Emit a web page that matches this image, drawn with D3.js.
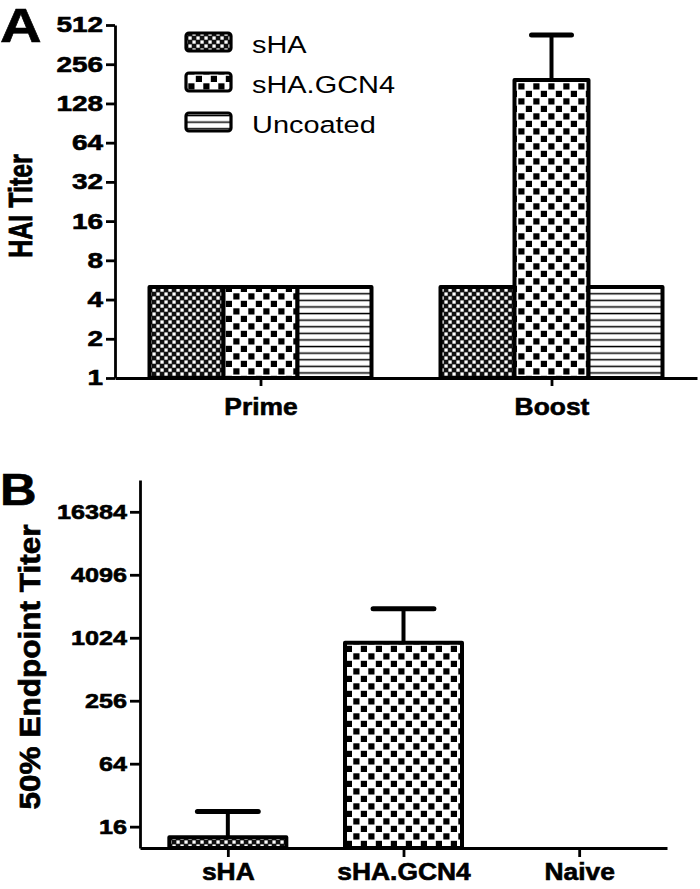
<!DOCTYPE html>
<html><head><meta charset="utf-8">
<script src="https://cdn.jsdelivr.net/npm/d3@7"></script>
<style>
html,body{margin:0;padding:0;background:#fff;}
text{font-family:Arial,"Liberation Sans",sans-serif;fill:#000;}
</style></head>
<body>
<svg id="c" width="700" height="889"></svg>
<script>
// ---- Data ----
const groupsA = ["Prime", "Boost"];
const seriesA = ["sHA", "sHA.GCN4", "Uncoated"];
const sHA_A = [5, 5];
const gcn4_A = [5, 194];
const uncoated_A = [5, 5];
const sHA_errA = [null, null];
const gcn4_errA = [null, 429];
const uncoated_errA = [null, null];
const ticksA = [1, 2, 4, 8, 16, 32, 64, 128, 256, 512];

const groupsB = ["sHA", "sHA.GCN4", "Naive"];
const valuesB = [12.7, 917, 10];
const errB = [22.3, 1940, null];
const patternsB = ["pSHA", "pGCN", "pSHA"];
const ticksB = [16, 64, 256, 1024, 4096, 16384];

const svg = d3.select("#c");
const defs = svg.append("defs");
// fine checker: dark with white squares
const p1 = defs.append("pattern").attr("id","pSHA").attr("patternUnits","userSpaceOnUse").attr("width",8).attr("height",8);
p1.append("rect").attr("width",8).attr("height",8).attr("fill","#111");
p1.append("rect").attr("x",0.4).attr("y",0.4).attr("width",3.3).attr("height",3.3).attr("fill","#fff");
p1.append("rect").attr("x",4.4).attr("y",4.4).attr("width",3.3).attr("height",3.3).attr("fill","#fff");
// coarse checker
const p2 = defs.append("pattern").attr("id","pGCN").attr("patternUnits","userSpaceOnUse").attr("width",15).attr("height",15);
p2.append("rect").attr("width",15).attr("height",15).attr("fill","#fff");
p2.append("rect").attr("x",0.8).attr("y",0.8).attr("width",6.2).attr("height",6.2).attr("fill","#000");
p2.append("rect").attr("x",8.3).attr("y",8.3).attr("width",6.2).attr("height",6.2).attr("fill","#000");
// horizontal lines
const p3 = defs.append("pattern").attr("id","pUNC").attr("patternUnits","userSpaceOnUse").attr("width",8).attr("height",6.6);
p3.append("rect").attr("width",8).attr("height",6.6).attr("fill","#fff");
p3.append("rect").attr("x",0).attr("y",2.6).attr("width",8).attr("height",1.5).attr("fill","#000");
const patA = ["pSHA","pGCN","pUNC"];

function stretchText(sel, s){
  sel.each(function(){
    const L = this.getComputedTextLength();
    d3.select(this).attr("textLength", L*s).attr("lengthAdjust","spacingAndGlyphs");
  });
}
function boldify(sel){ sel.attr("font-weight","bold").attr("stroke","#000").attr("stroke-width",0.6).attr("font-family","Arial, Liberation Sans, sans-serif"); }

// ================= Panel A =================
const xA = d3.scalePoint().domain(groupsA).range([115, 697]).padding(0.5);
const yA = d3.scaleLog().base(2).domain([1, 512]).range([378, 25]);
const sub = d3.scaleBand().domain(seriesA).range([-111, 111]).padding(0);
const seriesValsA = [sHA_A, gcn4_A, uncoated_A];
const seriesErrA = [sHA_errA, gcn4_errA, uncoated_errA];

const gA = svg.append("g");
seriesA.forEach((s, si) => {
  groupsA.forEach((g, gi) => {
    const v = seriesValsA[si][gi];
    const x0 = xA(g) + sub(s);
    const e = seriesErrA[si][gi];
    if (e != null) {
      const cx = x0 + sub.bandwidth()/2;
      gA.append("line").attr("x1",cx).attr("x2",cx).attr("y1",yA(v)).attr("y2",yA(e))
        .attr("stroke","#000").attr("stroke-width",4);
      gA.append("line").attr("x1",cx - sub.bandwidth()*0.27).attr("x2",cx + sub.bandwidth()*0.27)
        .attr("y1",yA(e)).attr("y2",yA(e)).attr("stroke","#000").attr("stroke-width",5).attr("stroke-linecap","round");
    }
    gA.append("rect").attr("x", x0).attr("y", yA(v)).attr("width", sub.bandwidth())
      .attr("height", yA(1) - yA(v)).attr("fill", `url(#${patA[si]})`)
      .attr("stroke","#000").attr("stroke-width",4).attr("stroke-linejoin","round");
  });
});

const axYA = svg.append("g").attr("transform","translate(115,0)")
  .call(d3.axisLeft(yA).tickValues(ticksA).tickFormat(d3.format("d")).tickSize(9).tickSizeOuter(0).tickPadding(3));
const axXA = svg.append("g").attr("transform","translate(0,378)")
  .call(d3.axisBottom(xA).tickSize(8).tickSizeOuter(0).tickPadding(12));
[axYA, axXA].forEach(a => {
  a.select(".domain").attr("stroke","#000").attr("stroke-width",2.8);
  a.selectAll(".tick line").attr("stroke","#000").attr("stroke-width",2.8);
});
axYA.selectAll("text").attr("font-size",21.5).call(boldify).call(stretchText, 1.3);
axXA.selectAll("text").attr("font-size",24).call(boldify).call(stretchText, 1.1);

svg.append("text").attr("x",0).attr("y",42).attr("font-size",48).call(boldify).text("A").call(stretchText,1.2);
svg.append("text").attr("transform","translate(32,206) rotate(-90) scale(1,1.35)")
  .attr("text-anchor","middle").attr("font-size",25).call(boldify).text("HAI Titer");

// Legend
const leg = svg.append("g");
seriesA.forEach((s, i) => {
  const y = 32 + i*40;
  leg.append("rect").attr("x",186).attr("y",y+1).attr("width",45).attr("height",18).attr("rx",3)
    .attr("fill",`url(#${patA[i]})`).attr("stroke","#000").attr("stroke-width",3.2);
  leg.append("text").attr("x",252).attr("y",y+21).attr("font-size",24.5).text(s).call(stretchText,1.18);
});

// ================= Panel B =================
const xB = d3.scalePoint().domain(groupsB).range([140, 667]).padding(0.5);
const yB = d3.scaleLog().base(2).domain([10, 33000]).range([848, 480]);
const bwB = 117;
const gB = svg.append("g");
groupsB.forEach((g, i) => {
  const v = valuesB[i], e = errB[i];
  const cx = xB(g);
  if (e != null) {
    gB.append("line").attr("x1",cx).attr("x2",cx).attr("y1",yB(v)).attr("y2",yB(e))
      .attr("stroke","#000").attr("stroke-width",4);
    gB.append("line").attr("x1",cx - bwB*0.26).attr("x2",cx + bwB*0.26).attr("y1",yB(e)).attr("y2",yB(e))
      .attr("stroke","#000").attr("stroke-width",5).attr("stroke-linecap","round");
  }
  gB.append("rect").attr("x",cx - bwB/2).attr("y",yB(v)).attr("width",bwB)
    .attr("height", yB(10) - yB(v)).attr("fill",`url(#${patternsB[i]})`)
    .attr("stroke","#000").attr("stroke-width",4).attr("stroke-linejoin","round");
});
const axYB = svg.append("g").attr("transform","translate(140,0)")
  .call(d3.axisLeft(yB).tickValues(ticksB).tickFormat(d3.format("d")).tickSize(10).tickSizeOuter(0).tickPadding(3));
const axXB = svg.append("g").attr("transform","translate(0,848)")
  .call(d3.axisBottom(xB).tickSize(9).tickSizeOuter(0).tickPadding(6));
[axYB, axXB].forEach(a => {
  a.select(".domain").attr("stroke","#000").attr("stroke-width",2.8);
  a.selectAll(".tick line").attr("stroke","#000").attr("stroke-width",2.8);
});
axYB.selectAll("text").attr("font-size",21).call(boldify).call(stretchText, 1.2);
axXB.selectAll("text").attr("font-size",24).call(boldify).call(stretchText, 1.1);

svg.append("text").attr("x",0).attr("y",505).attr("font-size",44).call(boldify).text("B").call(stretchText,1.15);
svg.append("text").attr("transform","translate(40,667) rotate(-90) scale(1,1.2)")
  .attr("text-anchor","middle").attr("font-size",25).call(boldify)
  .attr("textLength",285).attr("lengthAdjust","spacingAndGlyphs").text("50% Endpoint Titer");
</script>
</body></html>
